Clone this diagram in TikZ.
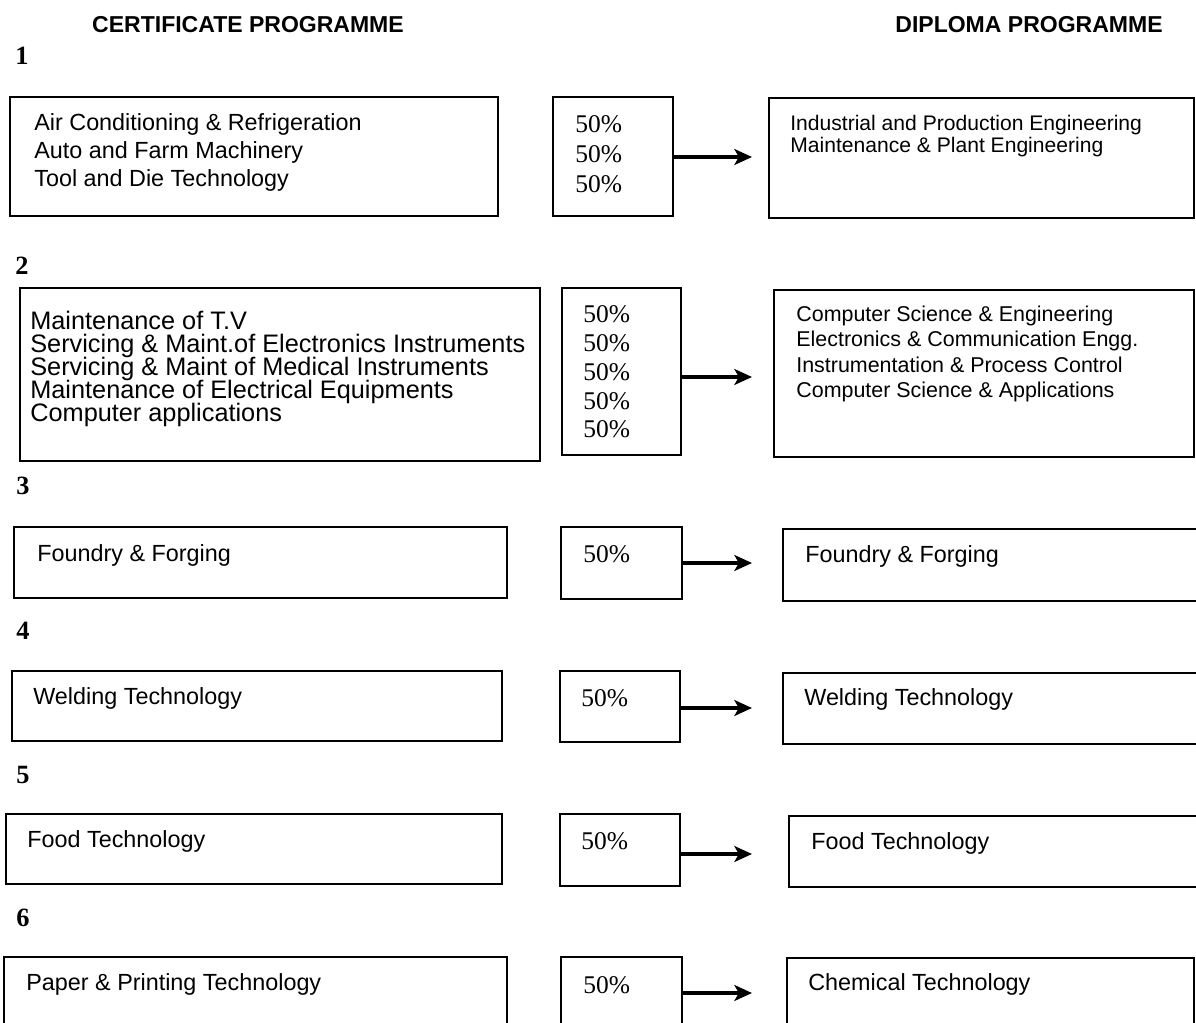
\documentclass[tikz,border=0pt]{standalone}
\usepackage{fontspec}
\setmainfont{Liberation Sans}
\newfontfamily\pctfont{Liberation Serif}
\usetikzlibrary{positioning, fit, arrows.meta}
\setlength{\lineskiplimit}{-100pt}

\begin{document}
\begin{tikzpicture}[x=0.02cm, y=-0.02cm,
    box/.style={draw, line width=0.9pt, inner sep=0pt},
    item/.style={anchor=base west, align=left, inner sep=0pt,
      font=\fontsize{13.3}{16}\selectfont},
    pct/.style={anchor=base west, align=left, inner sep=0pt,
      font=\pctfont\fontsize{14.5}{17.2}\selectfont},
    num/.style={anchor=base west, inner sep=0pt,
      font=\pctfont\bfseries\fontsize{15}{18}\selectfont},
    title/.style={anchor=base, inner sep=0pt,
      font=\bfseries\fontsize{13.1}{16}\selectfont},
    arr/.style={-{Stealth[length=10pt, width=9pt, inset=2.5pt]}, line width=1.9pt}]

  \useasboundingbox (0,0) rectangle (1196,1023);
  \clip (0,0) rectangle (1196,1023);

% TITLES

  \node [title] (certtitle) at (248,33) {CERTIFICATE PROGRAMME};
  \node [title] (diptitle) at (1029,33) {DIPLOMA PROGRAMME};

% ROW 1 (multi-line nodes sit on their last baseline)

  \node [num] (n1) at (15,65) {1};
  \node [box, fit={(10,97) (498,216)}] (cert1) {};
  \node [box, fit={(553,97) (673,216)}] (share1) {};
  \node [box, fit={(769,98) (1194,218)}] (dip1) {};

  \node [item] (certtext1) at (34,187) {Air Conditioning \& Refrigeration\\
    Auto and Farm Machinery\\
    Tool and Die Technology};
  \node [pct] (sharetext1) at (575,193) {50\%\\50\%\\50\%};
  \node [item, font=\fontsize{12}{13}\selectfont] (diptext1) at (790,153)
    {Industrial and Production Engineering\\
    Maintenance \& Plant Engineering};

  \coordinate (tip1) at (752,157);
  \draw [arr] (share1.east |- tip1) -- (tip1);

% ROW 2

  \node [num] (n2) at (15,275) {2};
  \node [box, fit={(20,288) (540,461)}] (cert2) {};
  \node [box, fit={(562,288) (681,455)}] (share2) {};
  \node [box, fit={(774,290) (1194,457)}] (dip2) {};

  \node [item, font=\fontsize{14.4}{13}\selectfont] (certtext2) at (30,421)
    {Maintenance of T.V\\
    Servicing \& Maint.of Electronics Instruments\\
    Servicing \& Maint of Medical Instruments\\
    Maintenance of Electrical Equipments\\
    Computer applications};
  \node [pct, font=\pctfont\fontsize{14.5}{16.4}\selectfont] (sharetext2)
    at (583,438) {50\%\\50\%\\50\%\\50\%\\50\%};
  \node [item, font=\fontsize{12.2}{14.6}\selectfont] (diptext2) at (796,398)
    {Computer Science \& Engineering\\
    Electronics \& Communication Engg.\\
    Instrumentation \& Process Control\\
    Computer Science \& Applications};

  \coordinate (tip2) at (752,377);
  \draw [arr] (share2.east |- tip2) -- (tip2);

% ROW 3

  \node [num] (n3) at (16,494) {3};
  \node [box, fit={(14,527) (507,598)}] (cert3) {};
  \node [box, fit={(561,527) (682,599)}] (share3) {};
  \node [box, fit={(783,529) (1210,601)}] (dip3) {};

  \node [item] (certtext3) at (37,561) {Foundry \& Forging};
  \node [pct] (sharetext3) at (583,562) {50\%};
  \node [item] (diptext3) at (805,562) {Foundry \& Forging};

  \coordinate (tip3) at (752,563);
  \draw [arr] (share3.east |- tip3) -- (tip3);

% ROW 4

  \node [num] (n4) at (16,639) {4};
  \node [box, fit={(12,671) (502,741)}] (cert4) {};
  \node [box, fit={(560,671) (680,742)}] (share4) {};
  \node [box, fit={(783,673) (1210,744)}] (dip4) {};

  \node [item] (certtext4) at (33,704) {Welding Technology};
  \node [pct] (sharetext4) at (581,706) {50\%};
  \node [item] (diptext4) at (804,705) {Welding Technology};

  \coordinate (tip4) at (752,708);
  \draw [arr] (share4.east |- tip4) -- (tip4);

% ROW 5

  \node [num] (n5) at (16,783) {5};
  \node [box, fit={(6,814) (502,884)}] (cert5) {};
  \node [box, fit={(560,814) (680,886)}] (share5) {};
  \node [box, fit={(789,816) (1210,887)}] (dip5) {};

  \node [item] (certtext5) at (27,847) {Food Technology};
  \node [pct] (sharetext5) at (581,849) {50\%};
  \node [item] (diptext5) at (811,849) {Food Technology};

  \coordinate (tip5) at (752,854);
  \draw [arr] (share5.east |- tip5) -- (tip5);

% ROW 6

  \node [num] (n6) at (16,926) {6};
  \node [box, fit={(4,957) (507,1040)}] (cert6) {};
  \node [box, fit={(561,957) (682,1040)}] (share6) {};
  \node [box, fit={(787,958) (1194,1040)}] (dip6) {};

  \node [item] (certtext6) at (26,990) {Paper \& Printing Technology};
  \node [pct] (sharetext6) at (583,993) {50\%};
  \node [item] (diptext6) at (808,990) {Chemical Technology};

  \coordinate (tip6) at (752,993);
  \draw [arr] (share6.east |- tip6) -- (tip6);

\end{tikzpicture}
\end{document}
